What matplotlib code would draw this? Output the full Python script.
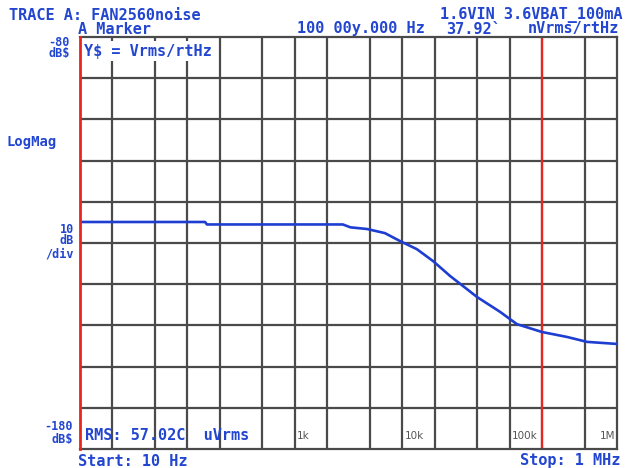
import matplotlib
matplotlib.use("Agg")
import matplotlib.pyplot as plt
import matplotlib.transforms as mtransforms

# noise trace (Hz, dB Vrms/rtHz)
freq_hz = [10, 146, 152, 2800, 3300, 4700, 6900, 9500, 13700, 19400, 27900,
           40100, 49700, 81400, 117000, 200000, 342000, 526000, 1000000]
noise_db = [-124.9, -124.9, -125.5, -125.5, -126.2, -126.6, -127.6, -129.5,
            -131.5, -134.4, -138.0, -141.2, -143.1, -146.7, -149.7, -151.6,
            -152.8, -154.0, -154.5]

grid_freqs = [20, 50, 100, 200, 500, 1e3, 2e3, 5e3, 1e4, 2e4, 5e4, 1e5, 2e5, 5e5]
grid_db = list(range(-170, -80, 10))
decade_freqs = [1e3, 1e4, 1e5, 1e6]
decade_labels = ["1k", "10k", "100k", "1M"]
marker_freq = 2e5

W, H = 627, 468
BLUE = "#1e3ed2"
TXT = "#2246d0"
GRID = "#4a4a4a"
RED = "#e8261e"
FONT = "DejaVu Sans Mono"

fig = plt.figure(figsize=(W / 100, H / 100), dpi=100)
fig.patch.set_facecolor("white")

# plot area in pixels: x 80..617, y 37..449
x0, x1, y0, y1 = 80, 617, 37, 449
ax = fig.add_axes([x0 / W, 1 - y1 / H, (x1 - x0) / W, (y1 - y0) / H])
ax.set_xscale("log")
ax.set_xlim(10, 1e6)
ax.set_ylim(-180, -80)

for f in grid_freqs:
    ax.axvline(f, color=GRID, lw=1.6, zorder=1)
for d in grid_db:
    ax.axhline(d, color=GRID, lw=1.6, zorder=1)
ax.axvline(marker_freq, color=RED, lw=1.6, zorder=2)

ax.plot(freq_hz, noise_db, color=BLUE, lw=1.9, zorder=3)

ax.set_xticks([])
ax.set_yticks([])
ax.minorticks_off()
ax.tick_params(which="both", length=0)
for side in ["top", "bottom", "right"]:
    ax.spines[side].set_color(GRID)
    ax.spines[side].set_linewidth(1.6)
ax.spines["left"].set_color(RED)
ax.spines["left"].set_linewidth(2.0)
ax.spines["left"].set_zorder(5)

# decade labels inside the bottom of the grid
trans = mtransforms.blended_transform_factory(ax.transData, ax.transAxes)
for f, lab in zip(decade_freqs, decade_labels):
    ha = "right" if f == 1e6 else "left"
    dx = 0.97 if f == 1e6 else 1.05
    ax.text(f * dx, 0.032, lab, transform=trans, ha=ha, va="center",
            fontsize=7.5, color="#555555", family="DejaVu Sans", zorder=4)

ax.text(0.008, 0.984, "Y$ = Vrms/rtHz", transform=ax.transAxes, ha="left", va="top",
        fontsize=11, fontweight="bold", color=TXT, family=FONT, zorder=6,
        bbox=dict(facecolor="white", edgecolor="none", pad=1.5))
ax.text(0.01, 0.032, "RMS: 57.02C  uVrms", transform=ax.transAxes, ha="left", va="center",
        fontsize=11, fontweight="bold", color=TXT, family=FONT, zorder=6)


def label(px, py, s, ha="left", size=11):
    fig.text(px / W, 1 - py / H, s, ha=ha, va="center", fontsize=size,
             fontweight="bold", color=TXT, family=FONT)


label(9, 15, "TRACE A: FAN2560noise")
label(78, 29, "A Marker")
label(297, 29, "100 00y.000 Hz")
label(623, 15, "1.6VIN 3.6VBAT_100mA", ha="right")
label(446, 29, "37.92`")
label(619, 29, "nVrms/rtHz", ha="right")

# stacked scale labels on the left, squeezed like the screen font
label(70, 42, "-80", ha="right", size=8.5)
label(70, 54, "dB$", ha="right", size=8.5)
label(6, 142, "LogMag", size=10)
label(74, 229, "10", ha="right", size=8.5)
label(74, 241, "dB", ha="right", size=8.5)
label(74, 254, "/div", ha="right", size=8.5)
label(73, 427, "-180", ha="right", size=8.5)
label(73, 439, "dB$", ha="right", size=8.5)

label(78, 461, "Start: 10 Hz")
label(620, 461, "Stop: 1 MHz", ha="right")

fig.savefig("out.png", dpi=100, facecolor="white")
